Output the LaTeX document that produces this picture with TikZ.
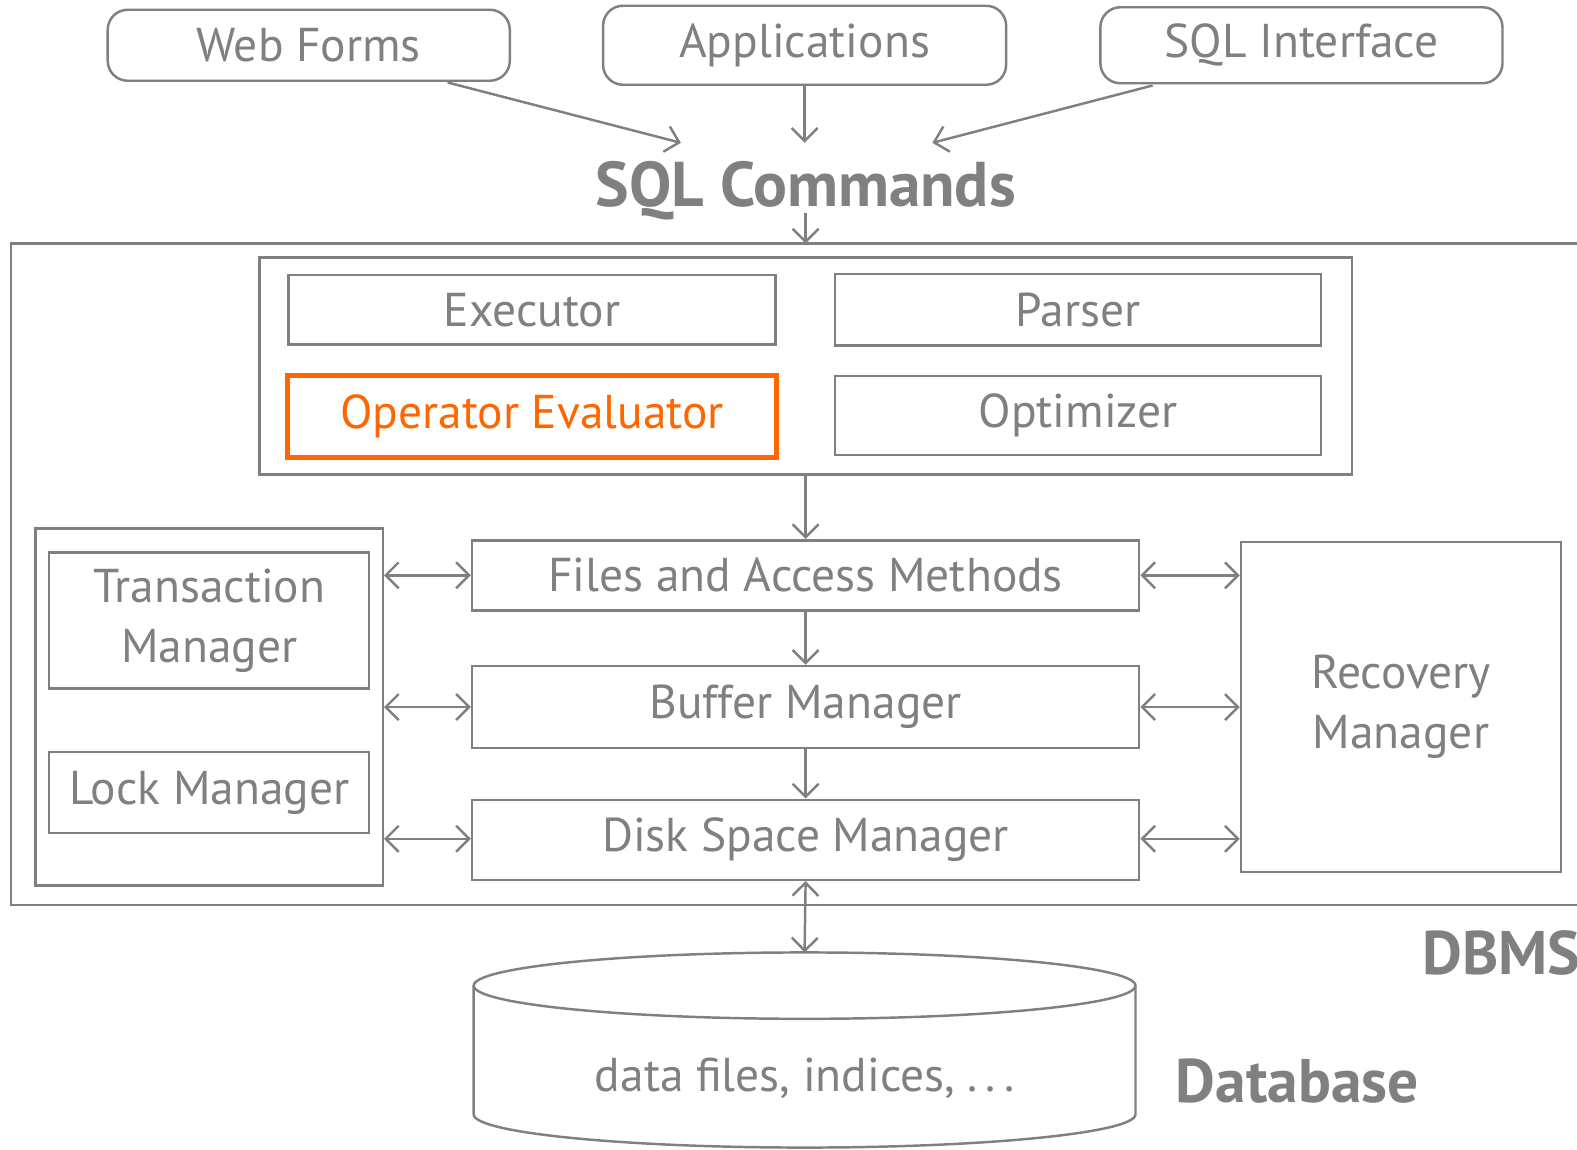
\documentclass[tikz,border=0pt]{standalone}
\usepackage{fontspec}
\setmainfont{PT Sans}
\usetikzlibrary{arrows.meta}
\definecolor{dbgray}{HTML}{808080}
\definecolor{dborange}{HTML}{FF6600}
\tikzset{
  blk/.style={draw=dbgray, line width=0.7pt, inner sep=0pt, align=center,
    text=dbgray, font=\fontsize{13.5}{17}\selectfont},
  ext/.style={blk, rounded corners=2mm},
  head/.style={text=dbgray, font=\fontsize{18}{22}\selectfont\bfseries},
  flow/.style={draw=dbgray, line width=0.7pt, -{Straight Barb[length=1.3mm,width=2.6mm]}},
  both/.style={flow, {Straight Barb[length=1.3mm,width=2.6mm]}-{Straight Barb[length=1.3mm,width=2.6mm]}}
}
\begin{document}
\begin{tikzpicture}[x=0.010057cm, y=-0.010057cm]
  \clip (0,0) rectangle (1568,1142.5);
  % external interfaces
  \node[ext, minimum width=4.02cm, minimum height=0.71cm] (web) at (307,45) {Web Forms};
  \node[ext, minimum width=4.03cm, minimum height=0.79cm] (apps) at (800,45) {Applications};
  \node[ext, minimum width=4.02cm, minimum height=0.76cm] (sqli) at (1294,45) {SQL Interface};
  \node[head] (cmds) at (801,190) {SQL Commands};
  \coordinate (inweb) at (677,142);
  \coordinate (insqli) at (927,142);
  \draw[flow] (445,82) -- (inweb);
  \draw[flow] (apps.south) -- (800,142);
  \draw[flow] (1146,85) -- (insqli);
  % DBMS frame
  \draw[dbgray, line width=0.7pt] (11,242) rectangle (1600,900);
  \draw[flow] (801,212) -- (801,242);
  % query processing
  \node[blk, minimum width=10.92cm, minimum height=2.17cm] (qry) at (801,364) {};
  \node[blk, minimum width=4.87cm, minimum height=0.69cm] (exec) at (529,308) {Executor};
  \node[blk, minimum width=4.86cm, minimum height=0.71cm] (pars) at (1072,308) {Parser};
  \node[blk, draw=dborange, text=dborange, line width=1.3pt, minimum width=4.89cm, minimum height=0.82cm] (opev) at (529,414) {Operator Evaluator};
  \node[blk, minimum width=4.86cm, minimum height=0.79cm] (opti) at (1072,413) {Optimizer};
  % storage layers
  \node[blk, minimum width=6.67cm, minimum height=0.70cm] (files) at (801,572) {Files and Access Methods};
  \node[blk, minimum width=6.67cm, minimum height=0.82cm] (buff) at (801,703) {Buffer Manager};
  \node[blk, minimum width=6.67cm, minimum height=0.80cm] (disk) at (801,835) {Disk Space Manager};
  \draw[flow] (qry.south) -- (files.north);
  \draw[flow] (files.south) -- (buff.north);
  \draw[flow] (buff.south) -- (disk.north);
  % concurrency control
  \node[blk, minimum width=3.47cm, minimum height=3.57cm] (conc) at (208,703) {};
  \node[blk, minimum width=3.2cm, minimum height=1.36cm] (trans) at (208,617) {Transaction\\Manager};
  \node[blk, minimum width=3.2cm, minimum height=0.81cm] (lock) at (208,788) {Lock Manager};
  \node[blk, minimum width=3.2cm, minimum height=3.3cm] (recov) at (1393,703) {Recovery\\Manager};
  \foreach \n/\y in {files/572, buff/703, disk/834} {
    \draw[both] (conc.east |- 0,\y) -- (\n.west |- 0,\y);
    \draw[both] (\n.east |- 0,\y) -- (recov.west |- 0,\y);
  }
  % database
  \draw[dbgray, line width=0.7pt] (800,980) ellipse (329 and 33);
  \draw[dbgray, line width=0.7pt] (471,980) -- (471,1108) arc[start angle=180, end angle=0, x radius=329, y radius=33] -- (1129,980);
  \coordinate (dbtop) at (800,947);
  \node[text=dbgray, font=\fontsize{13.5}{17}\selectfont] (dbtxt) at (800,1072) {data files, indices, .\,.\,.};
  \draw[both] (disk.south) -- (dbtop);
  \node[head, font=\fontsize{17.5}{20}\selectfont\bfseries] (dbms) at (1493,948) {DBMS};
  \node[head, font=\fontsize{17.5}{20}\selectfont\bfseries] (dbase) at (1290,1075) {Database};
\end{tikzpicture}
\end{document}
